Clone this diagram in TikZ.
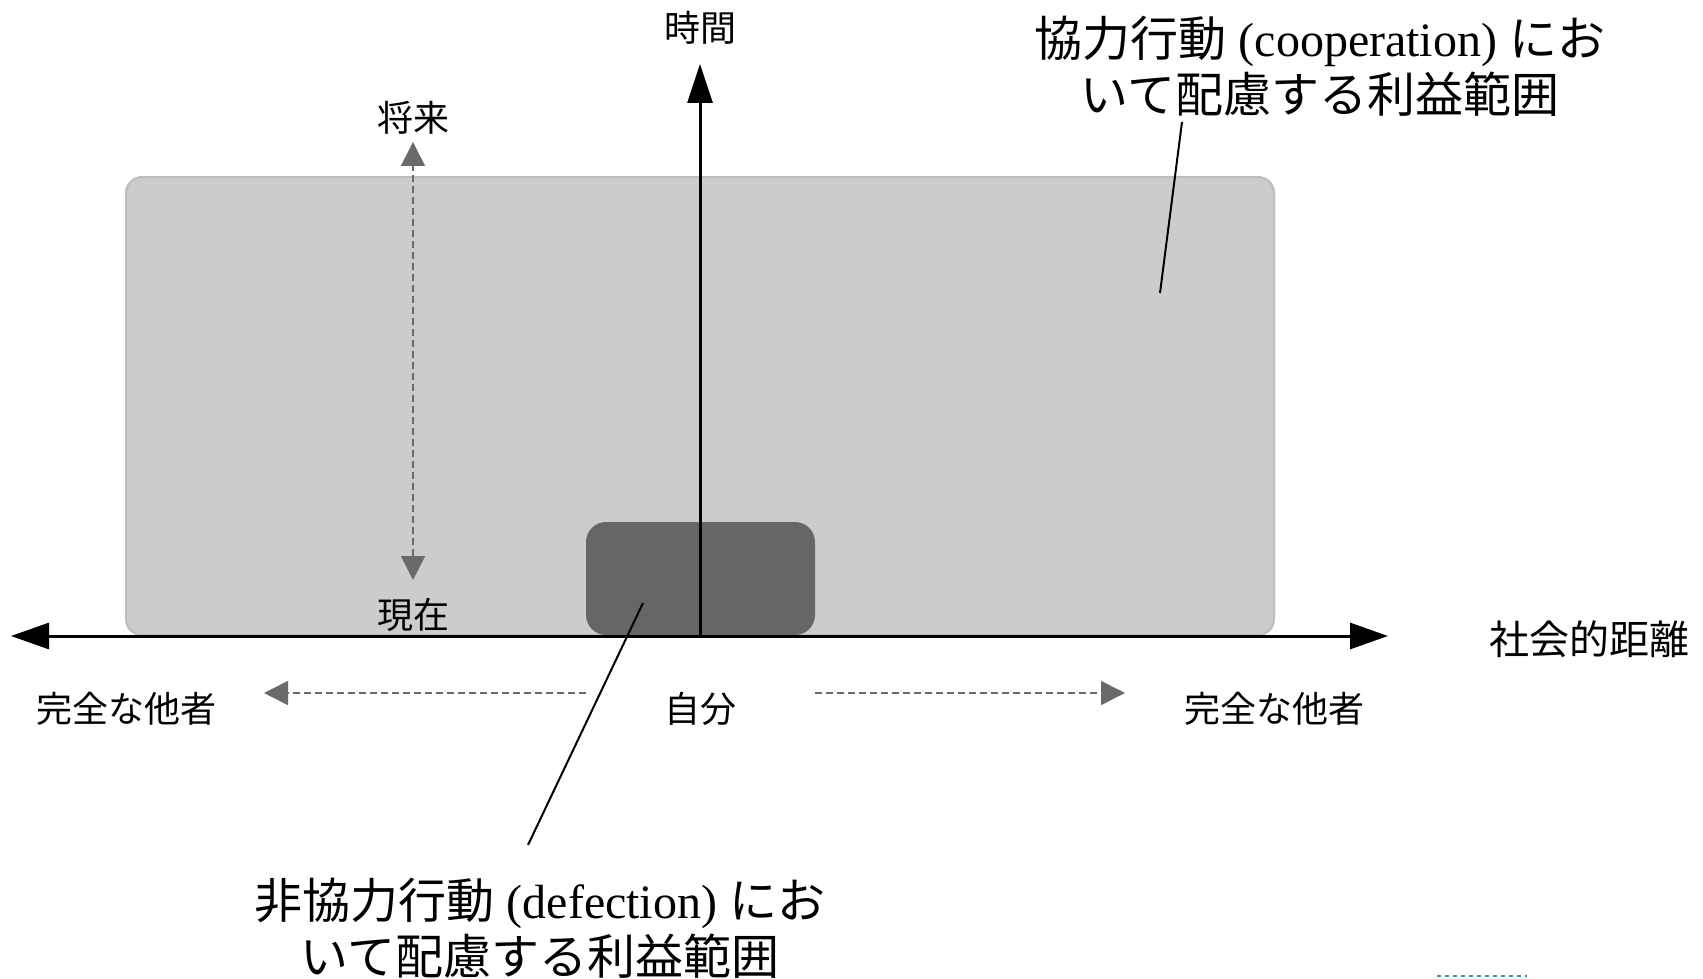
\documentclass[tikz,border=0pt]{standalone}
\usepackage{fontspec}
\setmainfont{Liberation Serif}
\newfontfamily\jp{Noto Sans CJK JP}
\usetikzlibrary{arrows.meta}
\definecolor{lightbox}{HTML}{CCCCCC}
\definecolor{lightedge}{HTML}{BDBDBD}
\definecolor{darkbox}{HTML}{666666}
\definecolor{dashgray}{HTML}{6A6A6A}
\definecolor{artblue}{HTML}{1A9BC8}
\begin{document}
\begin{tikzpicture}[x=0.5pt,y=-0.5pt,
  bigbox/.style={draw=lightedge,line width=1pt,fill=lightbox,rounded corners=8pt,inner sep=0pt,outer sep=0pt,anchor=north west},
  smallbox/.style={draw=none,fill=darkbox,rounded corners=10pt,inner sep=0pt,outer sep=0pt,anchor=north west},
  axis/.style={line width=1.5pt,black},
  dasharrow/.style={dashgray,line width=0.8pt,dash pattern=on 3.5pt off 2pt,-{Triangle[length=12pt,width=12pt]}},
  small/.style={font=\fontsize{18}{22}\selectfont\jp,inner sep=0pt},
  big/.style={font=\fontsize{24}{28}\selectfont,align=center,inner sep=0pt},
  leader/.style={line width=1pt,black}]
\useasboundingbox (0,0) rectangle (1703,979);
% regions
\node[bigbox,minimum width=574pt,minimum height=229pt] (coop) at (126,177) {};
\node[smallbox,minimum width=114.5pt,minimum height=56.5pt] (defect) at (586,522) {};
% axes
\coordinate (xl) at (11,636);
\coordinate (xr) at (1388,636);
\coordinate (o) at (700,636);
\coordinate (yt) at (700,64);
\draw[axis,{Triangle[length=19pt,width=13pt]}-{Triangle[length=19pt,width=13pt]}] (xl) -- (xr);
\draw[axis,-{Triangle[length=19.5pt,width=12.5pt]}] (o) -- (yt);
% time dashed arrow
\coordinate (ta) at (413,142);
\coordinate (tb) at (413,580);
\draw[dasharrow,{Triangle[length=12pt,width=12pt]}-{Triangle[length=12pt,width=12pt]}] (tb) -- (ta);
% distance dashed arrows
\coordinate (dl0) at (586,693);
\coordinate (dl1) at (264,693);
\coordinate (dr0) at (815,693);
\coordinate (dr1) at (1125,693);
\draw[dasharrow] (dl0) -- (dl1);
\draw[dasharrow] (dr0) -- (dr1);
% labels
\node[small] (jikan) at (700,28) {時間};
\node[small] (shourai) at (413,118) {将来};
\node[small] (genzai) at (413,615) {現在};
\node[small] (taL) at (126,709) {完全な他者};
\node[small] (jibun) at (700,709) {自分};
\node[small] (taR) at (1274,709) {完全な他者};
\node[small,font=\fontsize{20}{24}\selectfont\jp] (kyori) at (1589,639) {社会的距離};
\node[big] (coopl) at (1320,66) {{\jp 協力行動}\hspace{0.25em}(cooperation)\hspace{0.25em}{\jp にお}\\{\jp いて配慮する利益範囲}};
\node[big] (defl) at (540,928) {{\jp 非協力行動}\hspace{0.25em}(defection)\hspace{0.25em}{\jp にお}\\{\jp いて配慮する利益範囲}};
% leader lines
\coordinate (c1) at (1182,122);
\coordinate (c2) at (1160,293);
\draw[leader] (c1) -- (c2);
\coordinate (d1) at (643,603);
\coordinate (d2) at (528,845);
\draw[leader] (d1) -- (d2);
% small artifact
\coordinate (a1) at (1437,976);
\coordinate (a2) at (1527,976);
\draw[artblue,line width=1.2pt,dash pattern=on 2pt off 2pt] (a1) -- (a2);
\end{tikzpicture}
\end{document}
